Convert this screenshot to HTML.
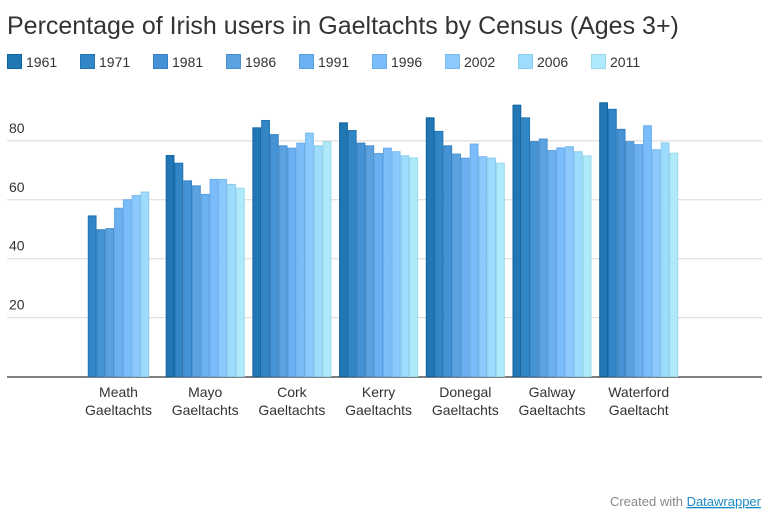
<!DOCTYPE html>
<html><head><meta charset="utf-8"><style>
body{margin:0;background:#fff;width:768px;height:516px;overflow:hidden;font-family:"Liberation Sans",sans-serif}
svg{display:block}
</style></head><body>
<svg width="768" height="516" id="c">
<text x="7" y="34" font-size="25" fill="#333" font-weight="300">Percentage of Irish users in Gaeltachts by Census (Ages 3+)</text>
<g id="legend"></g>
<g id="grid"></g>
<g id="bars"></g>
<g id="xl"></g>
<text x="761" y="506" font-size="13" fill="#888" text-anchor="end">Created with <tspan fill="#1a8ac6" text-decoration="underline">Datawrapper</tspan></text>
</svg>
<script>
const categories=[["Meath","Gaeltachts"],["Mayo","Gaeltachts"],["Cork","Gaeltachts"],["Kerry","Gaeltachts"],["Donegal","Gaeltachts"],["Galway","Gaeltachts"],["Waterford","Gaeltacht"]];
const years=["1961","1971","1981","1986","1991","1996","2002","2006","2011"];
const v1961=[0,75.2,84.6,86.3,88,92.3,93.1];
const v1971=[54.7,72.6,87.1,83.7,83.4,88,90.9];
const v1981=[50,66.6,82.3,79.4,78.5,79.9,84.1];
const v1986=[50.4,64.9,78.5,78.5,75.7,80.8,79.9];
const v1991=[57.3,62,77.7,75.9,74.3,76.9,78.9];
const v1996=[60.2,67.1,79.4,77.7,79.1,77.8,85.3];
const v2002=[61.6,67.1,82.8,76.5,74.8,78.2,77.2];
const v2006=[62.8,65.4,78.5,75.1,74.3,76.5,79.5];
const v2011=[null,64.1,79.9,74.4,72.6,75.1,76];
// Meath has 8 bars starting at 1971; shift: Meath 1961 is ~0
const meathFix=true;
const series=[v1961,v1971,v1981,v1986,v1991,v1996,v2002,v2006,v2011];
const ticks=[20,40,60,80];
const fills=["#2077b4","#3386c6","#4592d4","#5aa2e0","#6bb0f0","#7bbcfb","#8ccafd","#9edcfd","#aeeafc"];
const strokes=["#0f62a0","#2574b3","#3580c2","#4a90cf","#5aa0e0","#6aacea","#7bbaed","#8ccbed","#9bd9ea"];
const NS="http://www.w3.org/2000/svg";
const y=v=>376.5-2.945*v;
const gx=i=>79+86.7*i;
const bw=8.78;
const grid=document.getElementById('grid'),bars=document.getElementById('bars'),leg=document.getElementById('legend'),xl=document.getElementById('xl');
function mk(t,a,p){const e=document.createElementNS(NS,t);for(const k in a)e.setAttribute(k,a[k]);p.appendChild(e);return e;}
ticks.forEach(t=>{
 const l=mk('line',{x1:7,x2:762,y1:y(t),y2:y(t),stroke:'#d8d8d8','stroke-width':1},grid);
 
 
 const tx=mk('text',{x:9,y:y(t)-8,'font-size':14,fill:'#333'},grid);tx.textContent=t;
 
 
});
categories.forEach((c,i)=>{
 // Meath: 8 bars, first (1961) ~0
 const vals=series.map(s=>s[i]);
 let list=vals;
 if(i===0){list=[0,v1971[0],v1981[0],v1986[0],v1991[0],v1996[0],v2002[0],v2006[0],null];}
 list.forEach((v,j)=>{
  if(v===null)return;
  let fi=j; if(i===0&&j>0)fi=j+0;
  const h=Math.max(376.5-y(v),0.5);
  const r=mk('rect',{x:gx(i)+j*bw+0.5,y:y(v)+0.5,width:bw-1,height:h-0.5,fill:fills[fi],stroke:strokes[fi],'stroke-width':1},bars);
  
  
 });
 const t=mk('text',{x:gx(i)+39.5,y:397,'font-size':14,fill:'#333','text-anchor':'middle'},xl);
 
 
 const a=mk('tspan',{x:gx(i)+39.5},t);a.textContent=c[0];
 const b=mk('tspan',{x:gx(i)+39.5,dy:18},t);b.textContent=c[1];
});
const base=mk('line',{x1:7,x2:762,y1:377,y2:377,stroke:'#555','stroke-width':1.5},grid);


years.forEach((yr,j)=>{
 const g=mk('g',{},leg);
 
 
 mk('rect',{x:7.5+73*j,y:54.5,width:14,height:14,fill:fills[j],stroke:strokes[j]},g);
 const t=mk('text',{x:26+73*j,y:67,'font-size':14,fill:'#333'},g);t.textContent=yr;
});
</script>
</body></html>
